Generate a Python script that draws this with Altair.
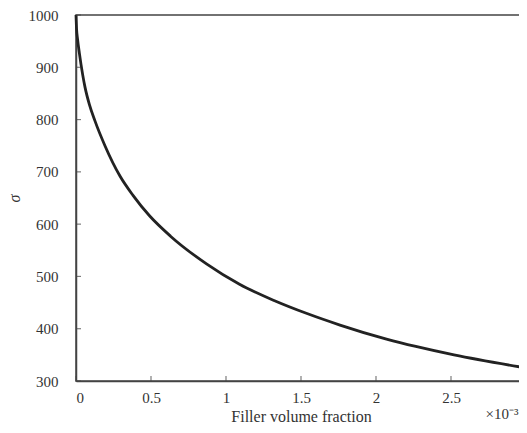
import altair as alt
import pandas as pd

# Curve values
x_vals = [0, 0.004, 0.01, 0.022, 0.045, 0.06, 0.09, 0.127, 0.193, 0.293, 0.38,
          0.49, 0.63, 0.87, 1.09, 1.32, 1.54, 1.76, 2.07, 2.52, 3.0]
sigma_vals = [1000, 972, 955, 928, 885, 862, 828, 797, 750, 692, 655,
              616, 577, 524, 485, 454, 429, 407, 380, 350, 325]

x_ticks = [0, 0.5, 1, 1.5, 2, 2.5, 3]
y_ticks = [300, 400, 500, 600, 700, 800, 900, 1000]

W, H = 450, 366
FONT = "Liberation Serif"
TXT = "#333333"

df = pd.DataFrame({"x": x_vals, "s": sigma_vals})
xs = alt.Scale(domain=[0, 3], nice=False)
ys = alt.Scale(domain=[300, 1000], nice=False)

line = alt.Chart(df).mark_line(color="#222222", strokeWidth=2.8, interpolate="monotone").encode(
    x=alt.X("x:Q", scale=xs,
            axis=alt.Axis(values=x_ticks, format="~g", title="Filler volume fraction",
                          ticks=False, grid=False, labelPadding=9, titlePadding=3,
                          domainColor="#444444", domainWidth=1.5)),
    y=alt.Y("s:Q", scale=ys,
            axis=alt.Axis(values=y_ticks, format="d", title="σ", ticks=False, grid=False,
                          labelPadding=18, titlePadding=6, titleFontStyle="italic",
                          titleAngle=270, domainColor="#444444", domainWidth=1.5)),
)

xt = alt.Chart(pd.DataFrame({"x": x_ticks})).mark_tick(
    color="#444444", orient="vertical", size=5, thickness=1.2
).encode(x=alt.X("x:Q", scale=xs), y=alt.value(H - 2.5))

yt = alt.Chart(pd.DataFrame({"s": y_ticks})).mark_tick(
    color="#444444", orient="horizontal", size=5, thickness=1.2
).encode(y=alt.Y("s:Q", scale=ys), x=alt.value(2.5))

exp = alt.Chart(pd.DataFrame({"x": [2.73], "t": ["×10⁻³"]})).mark_text(
    font=FONT, fontSize=15, color=TXT, align="left", baseline="middle"
).encode(x=alt.X("x:Q", scale=xs), y=alt.value(H + 33), text="t:N")

chart = alt.layer(line, xt, yt, exp).properties(
    width=W, height=H,
    autosize=alt.AutoSizeParams(type="none"),
    padding={"left": 68, "top": 7, "right": -7, "bottom": 44},
).configure_view(stroke="#444444", strokeWidth=1.5).configure_axis(
    labelFont=FONT, titleFont=FONT, labelFontSize=15, titleFontSize=16,
    labelColor=TXT, titleColor=TXT, titleFontWeight="normal",
)

chart.save("out.html", embed_options={"renderer": "svg", "actions": False})
